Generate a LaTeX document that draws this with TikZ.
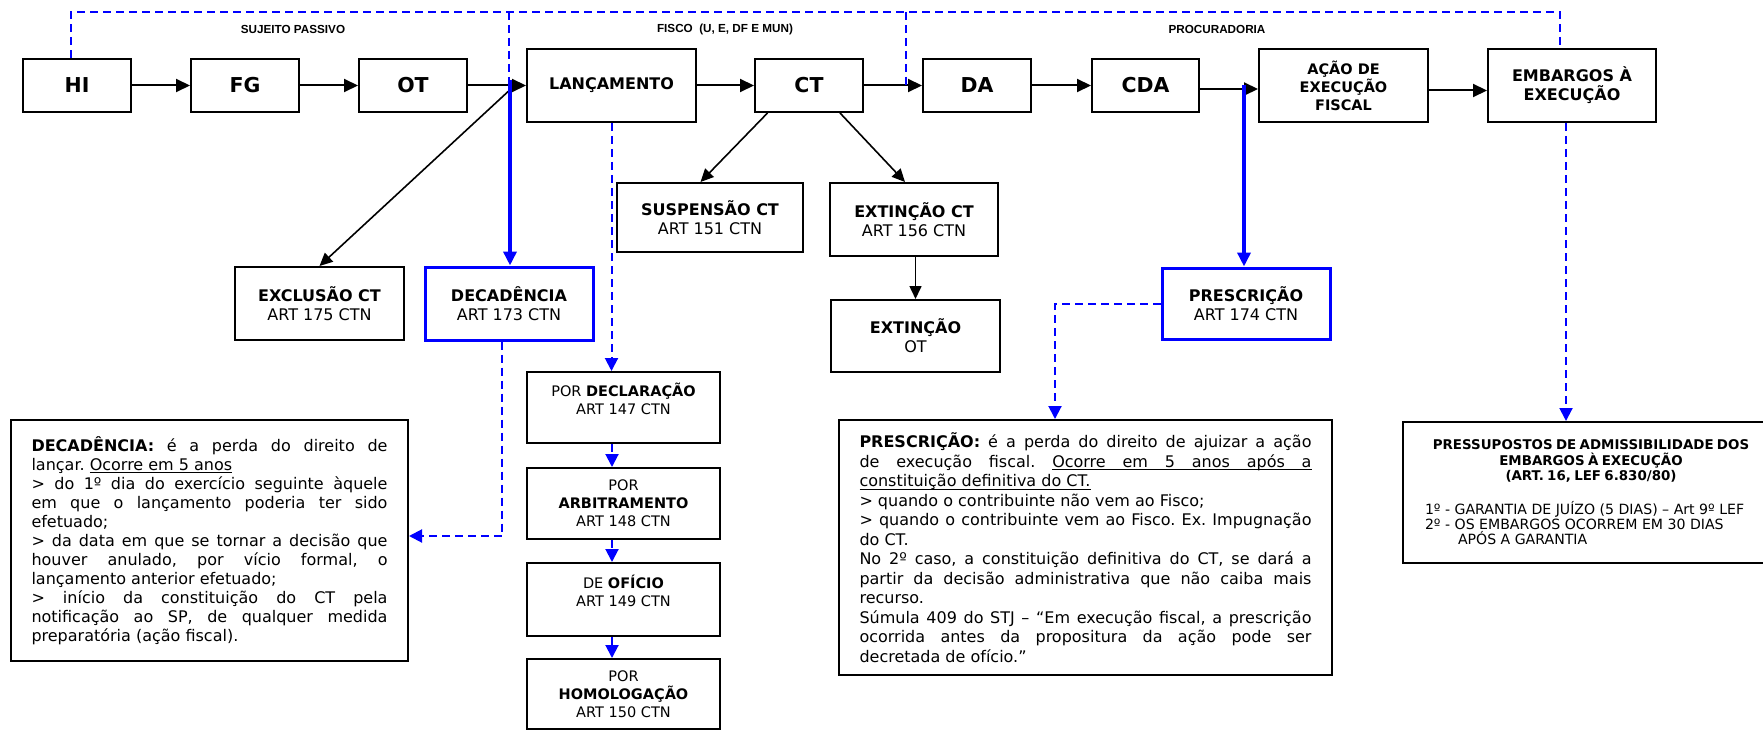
\documentclass[tikz,border=0pt]{standalone}
\usepackage{fontspec}
\setmainfont{DejaVu Sans}
\newfontfamily\arialfont{Liberation Sans}
\usetikzlibrary{arrows.meta,calc}
\newcommand\jl[1]{\makebox[\tw][s]{\spaceskip=0pt\xspaceskip=0pt\relax #1}}
\newcommand\lft[1]{\makebox[\tw][l]{\spaceskip=0pt\xspaceskip=0pt\relax #1}}
\newsavebox\ulbox
\newcommand\uw[1]{\sbox\ulbox{#1}\rlap{\rule[-3.2pt]{\wd\ulbox}{1.2pt}}\usebox\ulbox}
\newcommand\us{\leaders\hrule height -2pt depth 3.2pt\hskip\fontdimen2\font plus\fontdimen3\font minus\fontdimen4\font}
\frenchspacing
\tikzset{
  bx/.style={draw, line width=2pt, inner sep=0pt, align=center},
  bbx/.style={draw=blue, line width=3pt, inner sep=0pt, align=center},
  arr/.style={line width=2pt, -{Triangle[length=14pt,width=13pt]}},
  darr/.style={line width=1.6pt, -{Triangle[length=13pt,width=12pt]}},
  barr/.style={draw=blue, line width=3.5pt, -{Triangle[length=14pt,width=13pt]}},
  bdash/.style={draw=blue, line width=2pt, dash pattern=on 8pt off 5pt},
  bdarr/.style={bdash, -{Triangle[length=13pt,width=13pt]}},
  big/.style={font=\bfseries\fontsize{20.5}{24}\selectfont},
  mid/.style={font=\fontsize{16}{19}\selectfont},
  midb/.style={font=\bfseries\fontsize{16}{19}\selectfont},
  sml/.style={font=\fontsize{14.5}{18}\selectfont},
  hdr/.style={font=\arialfont\bfseries\fontsize{11.7}{14}\selectfont}
}
\begin{document}
\begin{tikzpicture}[x=1pt,y=-1pt]
\useasboundingbox (0,0) rectangle (1763,730);
% headers
\node[hdr] (hsp) at (293,29) {SUJEITO PASSIVO};
\node[hdr] (hfi) at (725,29) {FISCO~~(U, E, DF E MUN)};
\node[hdr] (hpr) at (1217,29) {PROCURADORIA};
% top row
\node[bx,big,minimum width=108pt,minimum height=53pt] (HI) at (77,85.5) {HI};
\node[bx,big,minimum width=108pt,minimum height=53pt] (FG) at (245,85.5) {FG};
\node[bx,big,minimum width=108pt,minimum height=53pt] (OT) at (413,85.5) {OT};
\node[bx,midb,minimum width=169pt,minimum height=73pt] (LANC) at (611.5,85.5) {LANÇAMENTO};
\node[bx,big,minimum width=108pt,minimum height=53pt] (CT) at (809,85.5) {CT};
\node[bx,big,minimum width=108pt,minimum height=53pt] (DA) at (977,85.5) {DA};
\node[bx,big,minimum width=107pt,minimum height=53pt] (CDA) at (1145.5,85.5) {CDA};
\node[bx,font=\bfseries\fontsize{14.5}{18}\selectfont,minimum width=169pt,minimum height=73pt] (ACAO) at (1343.5,85.5) {AÇÃO DE\\EXECUÇÃO\\FISCAL};
\node[bx,midb,minimum width=168pt,minimum height=73pt] (EMB) at (1572,85.5) {EMBARGOS À\\EXECUÇÃO};
% second level
\node[bx,mid,minimum width=186.5pt,minimum height=69pt] (SUSP) at (710,217.5) {\textbf{SUSPENSÃO CT}\\ART 151 CTN};
\node[bx,mid,minimum width=168.5pt,minimum height=73pt] (EXTCT) at (914,219.5) {\textbf{EXTINÇÃO CT}\\ART 156 CTN};
\node[bx,mid,minimum width=169pt,minimum height=72pt] (EXTOT) at (915.5,336) {\textbf{EXTINÇÃO}\\OT};
\node[bx,mid,minimum width=169pt,minimum height=73pt] (EXCL) at (319.5,303.5) {\textbf{EXCLUSÃO CT}\\ART 175 CTN};
\node[bbx,mid,minimum width=168pt,minimum height=73pt] (DEC) at (509,303.5) {\textbf{DECADÊNCIA}\\ART 173 CTN};
\node[bbx,mid,minimum width=168pt,minimum height=71pt] (PRESC) at (1246,303.5) {\textbf{PRESCRIÇÃO}\\ART 174 CTN};
% lancamento modes
\node[bx,sml,minimum width=193pt,minimum height=71pt] (DECL) at (623.5,407.5) {POR \textbf{DECLARAÇÃO}\\ART 147 CTN\\\mbox{}};
\node[bx,sml,minimum width=193pt,minimum height=71pt] (ARB) at (623.5,503.5) {POR\\\textbf{ARBITRAMENTO}\\ART 148 CTN};
\node[bx,sml,minimum width=193pt,minimum height=73pt] (OFI) at (623.5,599.5) {DE \textbf{OFÍCIO}\\ART 149 CTN\\\mbox{}};
\node[bx,sml,minimum width=193pt,minimum height=70pt] (HOM) at (623.5,694) {POR\\\textbf{HOMOLOGAÇÃO}\\ART 150 CTN};
% text boxes
\node[bx,align=left,text width=356pt,minimum width=397pt,minimum height=241pt,
  font=\fontsize{16}{19}\selectfont\def\tw{356pt}] (DTXT) at (209.5,540.5) {%
\jl{\textbf{DECADÊNCIA:} é a perda do direito de}\\
\lft{lançar. \uw{Ocorre}\us\uw{em}\us\uw{5}\us\uw{anos}}\\
\jl{> do 1º dia do exercício seguinte àquele}\\
\jl{em que o lançamento poderia ter sido}\\
\lft{efetuado;}\\
\jl{> da data em que se tornar a decisão que}\\
\jl{houver anulado, por vício formal, o}\\
\lft{lançamento anterior efetuado;}\\
\jl{> início da constituição do CT pela}\\
\jl{notificação ao SP, de qualquer medida}\\
\lft{preparatória (ação fiscal).}};
\node[bx,align=left,text width=452pt,minimum width=493pt,minimum height=255pt,
  font=\fontsize{16}{19.5}\selectfont\def\tw{452pt}] (PTXT) at (1085.5,547.5) {%
\jl{\textbf{PRESCRIÇÃO:} é a perda do direito de ajuizar a ação}\\
\jl{de execução fiscal. \uw{Ocorre}\us\uw{em}\us\uw{5}\us\uw{anos}\us\uw{após}\us\uw{a}}\\
\lft{\uw{constituição}\us\uw{definitiva}\us\uw{do}\us\uw{CT.}}\\
\lft{> quando o contribuinte não vem ao Fisco;}\\
\jl{> quando o contribuinte vem ao Fisco. Ex. Impugnação}\\
\lft{do CT.}\\
\jl{No 2º caso, a constituição definitiva do CT, se dará a}\\
\jl{partir da decisão administrativa que não caiba mais}\\
\lft{recurso.}\\
\jl{Súmula 409 do STJ – “Em execução fiscal, a prescrição}\\
\jl{ocorrida antes da propositura da ação pode ser}\\
\lft{decretada de ofício.”}};
\node[bx,align=center,text width=332pt,minimum width=376pt,minimum height=141pt,
  font=\def\tw{332pt}] (PRESS) at (1591,492.5) {%
{\bfseries\fontsize{13.4}{15.5}\selectfont PRESSUPOSTOS DE ADMISSIBILIDADE DOS\\
EMBARGOS À EXECUÇÃO\\
(ART. 16, LEF 6.830/80)\par}
\vspace{19pt}
{\fontsize{14.1}{15}\selectfont
\lft{1º - GARANTIA DE JUÍZO (5 DIAS) – Art 9º LEF}\\
\lft{2º - OS EMBARGOS OCORREM EM 30 DIAS}\\
\lft{\hspace*{33pt}APÓS A GARANTIA}\par}
\vspace{6pt}};
% horizontal flow
\draw[arr] (HI) -- (FG);
\draw[arr] (FG) -- (OT);
\draw[arr] (OT) -- (LANC);
\draw[arr] (LANC) -- (CT);
\draw[arr] (CT) -- (DA);
\draw[arr] (DA) -- (CDA);
\draw[arr] ([yshift=-3.5pt]CDA.east) -- ([yshift=-3.5pt]ACAO.west);
\draw[arr] ([yshift=-5pt]ACAO.east) -- ([yshift=-5pt]EMB.west);
% diagonals
\coordinate (x0) at (513,87);
\draw[darr] (x0) -- (EXCL.north);
\draw[darr] ([xshift=-41.5pt]CT.south) -- ([xshift=-9.5pt]SUSP.north);
\draw[darr] ([xshift=31pt]CT.south) -- ([xshift=-9pt]EXTCT.north);
\draw[darr] (EXTOT.north |- EXTCT.south) -- (EXTOT.north);
% blue solid
\coordinate (b1) at (510,80);
\draw[barr] (b1) -- (b1 |- DEC.north);
\coordinate (b2) at (1244,85);
\draw[barr] (b2) -- (b2 |- PRESC.north);
% dashed top
\coordinate (t1) at (1560,12);
\draw[bdash] ([xshift=-6pt]HI.north) |- (t1) -- ([xshift=-12pt]EMB.north);
\coordinate (s1) at (509,12);
\coordinate (s2) at (906,12);
\draw[bdash] (s1) -- (s1 |- OT.east);
\draw[bdash] (s2) -- (s2 |- CT.east);
% dashed arrows
\draw[bdarr] (LANC.south) -- (LANC.south |- DECL.north);
\draw[bdarr] ([xshift=-7pt]DEC.south) |- ([yshift=4.5pt]DTXT.east);
\draw[bdarr] (PRESC.west) -| ([xshift=-30.5pt]PTXT.north);
\coordinate (e1) at ([xshift=-6pt]EMB.south);
\draw[bdarr] (e1) -- (e1 |- PRESS.north);
\draw[bdarr] ([xshift=-11.5pt]DECL.south) -- ([xshift=-11.5pt]ARB.north);
\draw[bdarr] ([xshift=-11.5pt]ARB.south) -- ([xshift=-11.5pt]OFI.north);
\draw[bdarr] ([xshift=-11.5pt]OFI.south) -- ([xshift=-11.5pt]HOM.north);
\end{tikzpicture}
\end{document}
